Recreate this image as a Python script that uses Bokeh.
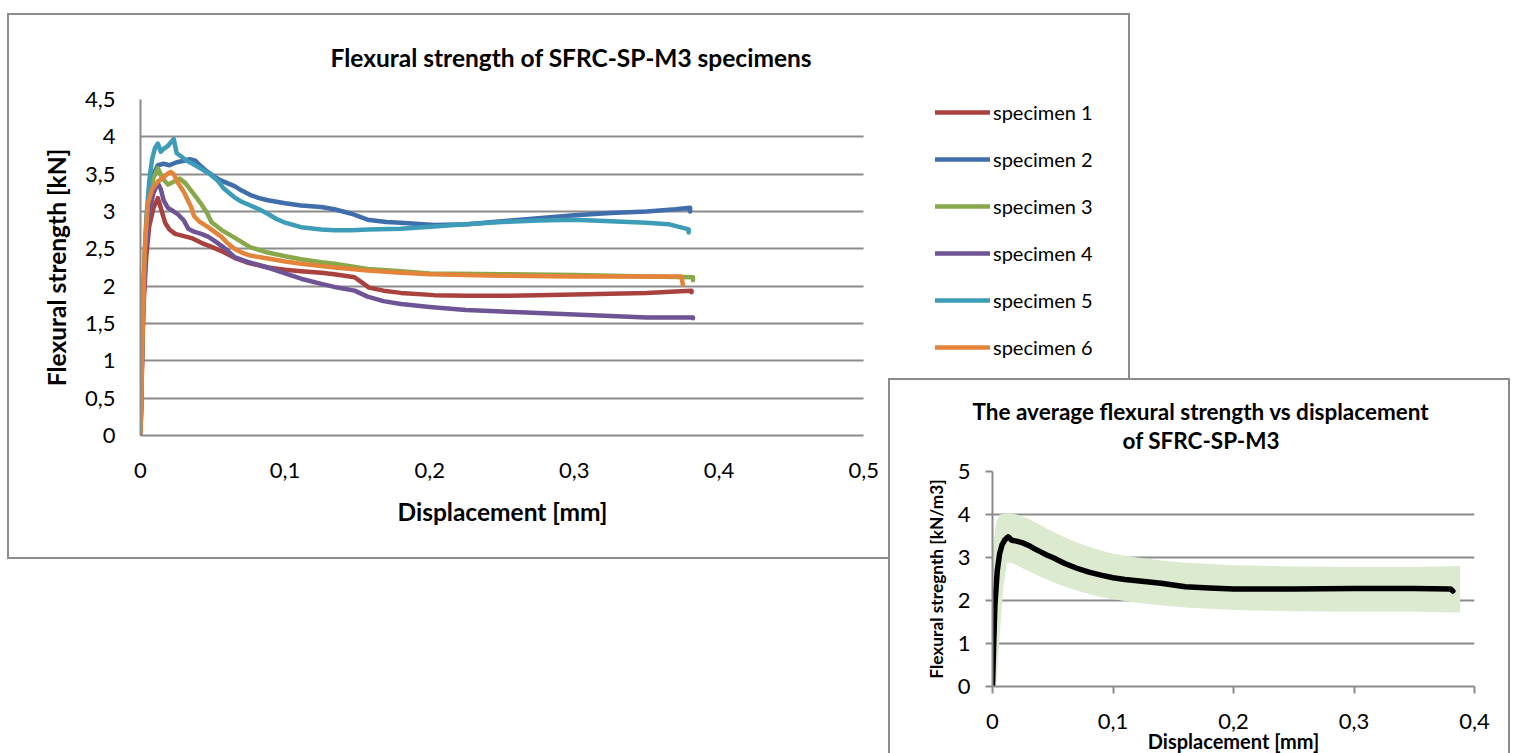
from bokeh.plotting import figure
from bokeh.models import (FixedTicker, CustomJSTickFormatter, Legend, LegendItem, Range1d, Title)
from bokeh.embed import file_html
from bokeh.resources import INLINE

# ---------------- data ----------------
main_title = "Flexural strength of SFRC-SP-M3 specimens"
main_xlabel = "Displacement [mm]"
main_ylabel = "Flexural strength [kN]"
x_ticks_main = [0, 0.1, 0.2, 0.3, 0.4, 0.5]
y_ticks_main = [0, 0.5, 1, 1.5, 2, 2.5, 3, 3.5, 4, 4.5]

series_names = ["specimen 1", "specimen 2", "specimen 3", "specimen 4", "specimen 5", "specimen 6"]

x1 = [0, 0.001, 0.002, 0.004, 0.006, 0.009, 0.012, 0.014, 0.017, 0.020, 0.024, 0.030, 0.036, 0.042, 0.050,
      0.056, 0.065, 0.075, 0.088, 0.100, 0.111, 0.125, 0.134, 0.148, 0.153, 0.158, 0.168, 0.180, 0.203, 0.225,
      0.250, 0.275, 0.300, 0.325, 0.350, 0.370, 0.381, 0.381]
y1 = [0, 0.9, 1.7, 2.4, 2.8, 3.05, 3.18, 3.05, 2.85, 2.76, 2.70, 2.67, 2.64, 2.58, 2.52,
      2.47, 2.38, 2.31, 2.25, 2.22, 2.20, 2.18, 2.16, 2.12, 2.05, 1.98, 1.94, 1.91, 1.88, 1.87,
      1.87, 1.88, 1.89, 1.90, 1.91, 1.93, 1.94, 1.92]

x2 = [0, 0.001, 0.002, 0.004, 0.006, 0.009, 0.012, 0.016, 0.020, 0.025, 0.030, 0.034, 0.038, 0.041, 0.045,
      0.050, 0.055, 0.060, 0.065, 0.070, 0.076, 0.082, 0.088, 0.100, 0.111, 0.125, 0.134, 0.146, 0.157, 0.170,
      0.180, 0.203, 0.226, 0.250, 0.275, 0.300, 0.325, 0.350, 0.370, 0.380, 0.380]
y2 = [0, 1.0, 1.9, 2.7, 3.2, 3.5, 3.62, 3.64, 3.62, 3.66, 3.68, 3.70, 3.68, 3.62, 3.55,
      3.48, 3.42, 3.38, 3.34, 3.28, 3.22, 3.18, 3.15, 3.11, 3.08, 3.06, 3.03, 2.97, 2.89, 2.86,
      2.85, 2.82, 2.83, 2.87, 2.91, 2.95, 2.98, 3.00, 3.03, 3.05, 3.00]

x3 = [0, 0.001, 0.002, 0.004, 0.006, 0.009, 0.012, 0.015, 0.019, 0.023, 0.027, 0.031, 0.035, 0.039, 0.042,
      0.046, 0.049, 0.053, 0.057, 0.065, 0.076, 0.088, 0.100, 0.111, 0.125, 0.134, 0.157, 0.180, 0.200, 0.250,
      0.300, 0.350, 0.382, 0.382]
y3 = [0, 1.1, 2.0, 2.8, 3.2, 3.45, 3.58, 3.45, 3.36, 3.40, 3.44, 3.38, 3.28, 3.18, 3.10,
      2.98, 2.86, 2.80, 2.74, 2.65, 2.52, 2.45, 2.40, 2.36, 2.32, 2.30, 2.23, 2.20, 2.17, 2.16,
      2.15, 2.13, 2.12, 2.08]

x4 = [0, 0.001, 0.002, 0.004, 0.006, 0.009, 0.012, 0.014, 0.016, 0.019, 0.023, 0.026, 0.030, 0.033, 0.037,
      0.042, 0.047, 0.051, 0.056, 0.060, 0.065, 0.075, 0.088, 0.100, 0.111, 0.125, 0.134, 0.148, 0.157, 0.168,
      0.180, 0.200, 0.225, 0.250, 0.275, 0.300, 0.325, 0.350, 0.370, 0.382, 0.382]
y4 = [0, 1.0, 1.8, 2.6, 3.0, 3.25, 3.38, 3.30, 3.15, 3.05, 3.00, 2.96, 2.88, 2.77, 2.73,
      2.70, 2.66, 2.61, 2.54, 2.48, 2.39, 2.32, 2.25, 2.17, 2.10, 2.03, 1.99, 1.94, 1.86, 1.80,
      1.76, 1.72, 1.68, 1.66, 1.64, 1.62, 1.60, 1.58, 1.58, 1.58, 1.57]

x5 = [0, 0.001, 0.002, 0.004, 0.006, 0.008, 0.010, 0.012, 0.014, 0.016, 0.019, 0.022, 0.023, 0.025, 0.028,
      0.032, 0.036, 0.042, 0.048, 0.053, 0.058, 0.065, 0.070, 0.076, 0.082, 0.088, 0.094, 0.100, 0.111, 0.125,
      0.134, 0.146, 0.157, 0.180, 0.203, 0.225, 0.250, 0.275, 0.300, 0.325, 0.350, 0.365, 0.375, 0.379, 0.379]
y5 = [0, 1.1, 2.0, 2.9, 3.4, 3.7, 3.85, 3.91, 3.80, 3.84, 3.88, 3.95, 3.97, 3.78, 3.74,
      3.68, 3.64, 3.57, 3.50, 3.42, 3.30, 3.19, 3.13, 3.08, 3.03, 2.97, 2.90, 2.85, 2.79, 2.76,
      2.75, 2.75, 2.76, 2.77, 2.80, 2.83, 2.86, 2.88, 2.89, 2.87, 2.85, 2.83, 2.78, 2.76, 2.72]

x6 = [0, 0.001, 0.002, 0.003, 0.005, 0.008, 0.012, 0.016, 0.019, 0.021, 0.023, 0.026, 0.030, 0.033, 0.035,
      0.037, 0.041, 0.046, 0.051, 0.056, 0.060, 0.065, 0.070, 0.076, 0.088, 0.100, 0.111, 0.125, 0.134, 0.157,
      0.180, 0.200, 0.249, 0.300, 0.350, 0.374, 0.375]
y6 = [0, 0.9, 1.8, 2.5, 3.1, 3.3, 3.40, 3.46, 3.51, 3.53, 3.50, 3.38, 3.26, 3.14, 3.06,
      2.94, 2.86, 2.80, 2.73, 2.66, 2.58, 2.50, 2.45, 2.41, 2.37, 2.33, 2.30, 2.27, 2.25, 2.21,
      2.18, 2.16, 2.14, 2.13, 2.13, 2.13, 2.02]

series_x = [x1, x2, x3, x4, x5, x6]
series_y = [y1, y2, y3, y4, y5, y6]
series_colors = ["#A9423F", "#3F6EAB", "#88A94A", "#6E5494", "#3D9CB7", "#E3843A"]

# inset: average curve and its scatter band
inset_title_1 = "The average flexural strength vs displacement"
inset_title_2 = "of SFRC-SP-M3"
inset_xlabel = "Displacement [mm]"
inset_ylabel = "Flexural stregnth [kN/m3]"
x_ticks_inset = [0, 0.1, 0.2, 0.3, 0.4]
y_ticks_inset = [0, 1, 2, 3, 4, 5]

xa = [0, 0.001, 0.002, 0.004, 0.006, 0.008, 0.010, 0.013, 0.016, 0.020, 0.025, 0.030, 0.035, 0.040, 0.045,
      0.050, 0.060, 0.070, 0.080, 0.090, 0.100, 0.110, 0.120, 0.130, 0.140, 0.150, 0.160, 0.180, 0.200, 0.250,
      0.300, 0.350, 0.380, 0.382]
ya = [0, 1.0, 1.9, 2.7, 3.1, 3.3, 3.4, 3.48, 3.40, 3.38, 3.34, 3.28, 3.20, 3.13, 3.06,
      3.00, 2.86, 2.75, 2.66, 2.59, 2.53, 2.49, 2.46, 2.43, 2.40, 2.36, 2.32, 2.29, 2.27, 2.27,
      2.28, 2.28, 2.27, 2.22]

xb = [-0.004, 0.0, 0.003, 0.006, 0.009, 0.012, 0.016, 0.020, 0.030, 0.040, 0.050, 0.060, 0.070, 0.080, 0.090,
      0.100, 0.120, 0.140, 0.160, 0.200, 0.250, 0.300, 0.350, 0.388]
band_hi = [2.2, 3.2, 3.8, 4.0, 4.02, 4.03, 4.03, 4.0, 3.9, 3.75, 3.6, 3.47, 3.35, 3.25, 3.16,
           3.09, 3.0, 2.93, 2.88, 2.82, 2.79, 2.78, 2.78, 2.8]
band_lo = [0.5, 0.0, 0.0, 1.2, 2.3, 2.88, 2.88, 2.82, 2.68, 2.55, 2.43, 2.32, 2.23, 2.15, 2.08,
           2.03, 1.95, 1.89, 1.84, 1.78, 1.75, 1.74, 1.74, 1.72]

# ---------------- styling ----------------
FONT = "Lato"
GRID = "#8c8c8c"
BORDER = "2px solid #8c8c8c"
TXT = "#000000"

JS_COMMA = "return tick.toFixed(1).replace('.0', '').replace('.', ',');"

# ---------------- main chart ----------------
# the frame reaches to the right past x = 0.5 so that the legend sits inside it;
# the x axis and the grid lines are bounded to 0..0.5
p1 = figure(width=1123, height=546, x_range=Range1d(0, 0.67), y_range=Range1d(0, 4.5),
            output_backend="svg", toolbar_location=None,
            min_border_left=131, min_border_right=23, min_border_top=84, min_border_bottom=126)
p1.styles = {"border": BORDER}
p1.margin = (13, 0, 0, 7)
p1.outline_line_color = None
p1.xgrid.visible = False
p1.ygrid.ticker = FixedTicker(ticks=y_ticks_main)
p1.ygrid.grid_line_color = GRID
p1.ygrid.grid_line_width = 2
p1.ygrid.cross_bounds = (0, 0.5)

p1.xaxis.ticker = FixedTicker(ticks=x_ticks_main)
p1.yaxis.ticker = FixedTicker(ticks=y_ticks_main)
p1.xaxis.bounds = (0, 0.5)
p1.xaxis.formatter = CustomJSTickFormatter(code=JS_COMMA)
p1.yaxis.formatter = CustomJSTickFormatter(code=JS_COMMA)
for ax in (p1.xaxis, p1.yaxis):
    ax.axis_line_color = GRID
    ax.axis_line_width = 2
    ax.major_tick_line_color = None
    ax.major_tick_out = 0
    ax.major_tick_in = 0
    ax.minor_tick_line_color = None
    ax.major_label_text_font = FONT
    ax.major_label_text_font_size = "22px"
    ax.major_label_text_color = TXT
    ax.axis_label_text_font = FONT
    ax.axis_label_text_font_size = "24.5px"
    ax.axis_label_text_font_style = "bold"
    ax.axis_label_text_color = TXT
p1.xaxis.major_label_standoff = 27
p1.yaxis.major_label_standoff = 25
p1.yaxis.axis_label = main_ylabel
p1.yaxis.axis_label_standoff = 11

# x-axis title centred under the 0..0.5 data span
p1.add_layout(Title(text=main_xlabel, align="left", offset=257, vertical_align="top", standoff=32,
                    text_font=FONT, text_font_size="24.5px", text_font_style="bold", text_color=TXT),
              "below")

items = []
for name, xs, ys, col in zip(series_names, series_x, series_y, series_colors):
    r = p1.line(xs, ys, line_color=col, line_width=4.5, line_join="round", line_cap="round")
    items.append(LegendItem(label=name, renderers=[r]))

legend = Legend(items=items, location=(795, 76), glyph_width=55, glyph_height=24, label_height=24,
                spacing=23, label_standoff=3, padding=0, margin=0, border_line_color=None,
                background_fill_alpha=0, label_text_font=FONT, label_text_font_size="20px",
                label_text_color=TXT)
p1.add_layout(legend)

p1.add_layout(Title(text=main_title, align="left", offset=190, vertical_align="top", standoff=52,
                    text_font=FONT, text_font_size="24.5px", text_font_style="bold", text_color=TXT),
              "above")

# ---------------- inset chart ----------------
p2 = figure(width=622, height=375, x_range=Range1d(0, 0.4), y_range=Range1d(0, 5),
            output_backend="svg", toolbar_location=None,
            min_border_left=102, min_border_right=38, min_border_top=91, min_border_bottom=69)
p2.styles = {"border-top": BORDER, "border-left": BORDER, "border-right": BORDER,
             "background-color": "white"}
p2.margin = (-181, 0, 0, 888)
p2.outline_line_color = None
p2.xgrid.visible = False
p2.ygrid.ticker = FixedTicker(ticks=y_ticks_inset)
p2.ygrid.grid_line_color = GRID
p2.ygrid.grid_line_width = 2
p2.xaxis.ticker = FixedTicker(ticks=x_ticks_inset)
p2.yaxis.ticker = FixedTicker(ticks=y_ticks_inset)
p2.xaxis.formatter = CustomJSTickFormatter(code=JS_COMMA)
p2.yaxis.formatter = CustomJSTickFormatter(code=JS_COMMA)
for ax in (p2.xaxis, p2.yaxis):
    ax.axis_line_color = GRID
    ax.axis_line_width = 2
    ax.major_tick_line_color = GRID
    ax.major_tick_line_width = 2
    ax.major_tick_out = 7
    ax.major_tick_in = 0
    ax.minor_tick_line_color = None
    ax.major_label_text_font = FONT
    ax.major_label_text_font_size = "22px"
    ax.major_label_text_color = TXT
    ax.axis_label_text_font = FONT
    ax.axis_label_text_font_style = "bold"
    ax.axis_label_text_color = TXT
p2.xaxis.major_label_standoff = 20
p2.yaxis.major_label_standoff = 15
p2.xaxis.axis_label = inset_xlabel
p2.yaxis.axis_label = inset_ylabel
p2.xaxis.axis_label_text_font_size = "20px"
p2.yaxis.axis_label_text_font_size = "17.3px"
p2.xaxis.axis_label_standoff = -3
p2.yaxis.axis_label_standoff = 8

p2.patch(xb + xb[::-1], band_hi + band_lo[::-1], fill_color="#DCEAD0", line_color=None)
p2.line(xa, ya, line_color="black", line_width=5.5, line_join="round", line_cap="round")

# two-line title, stacked above the frame (nearest first)
p2.add_layout(Title(text=" ", text_font_size="10px", standoff=5), "above")
p2.add_layout(Title(text=inset_title_2, align="left", offset=130, vertical_align="bottom", standoff=0,
                    text_font=FONT, text_font_size="22.5px", text_font_style="bold", text_color=TXT), "above")
p2.add_layout(Title(text=inset_title_1, align="left", offset=-20, vertical_align="bottom", standoff=0,
                    text_font=FONT, text_font_size="22.5px", text_font_style="bold", text_color=TXT), "above")

open("out.html", "w").write(file_html([p1, p2], INLINE))
